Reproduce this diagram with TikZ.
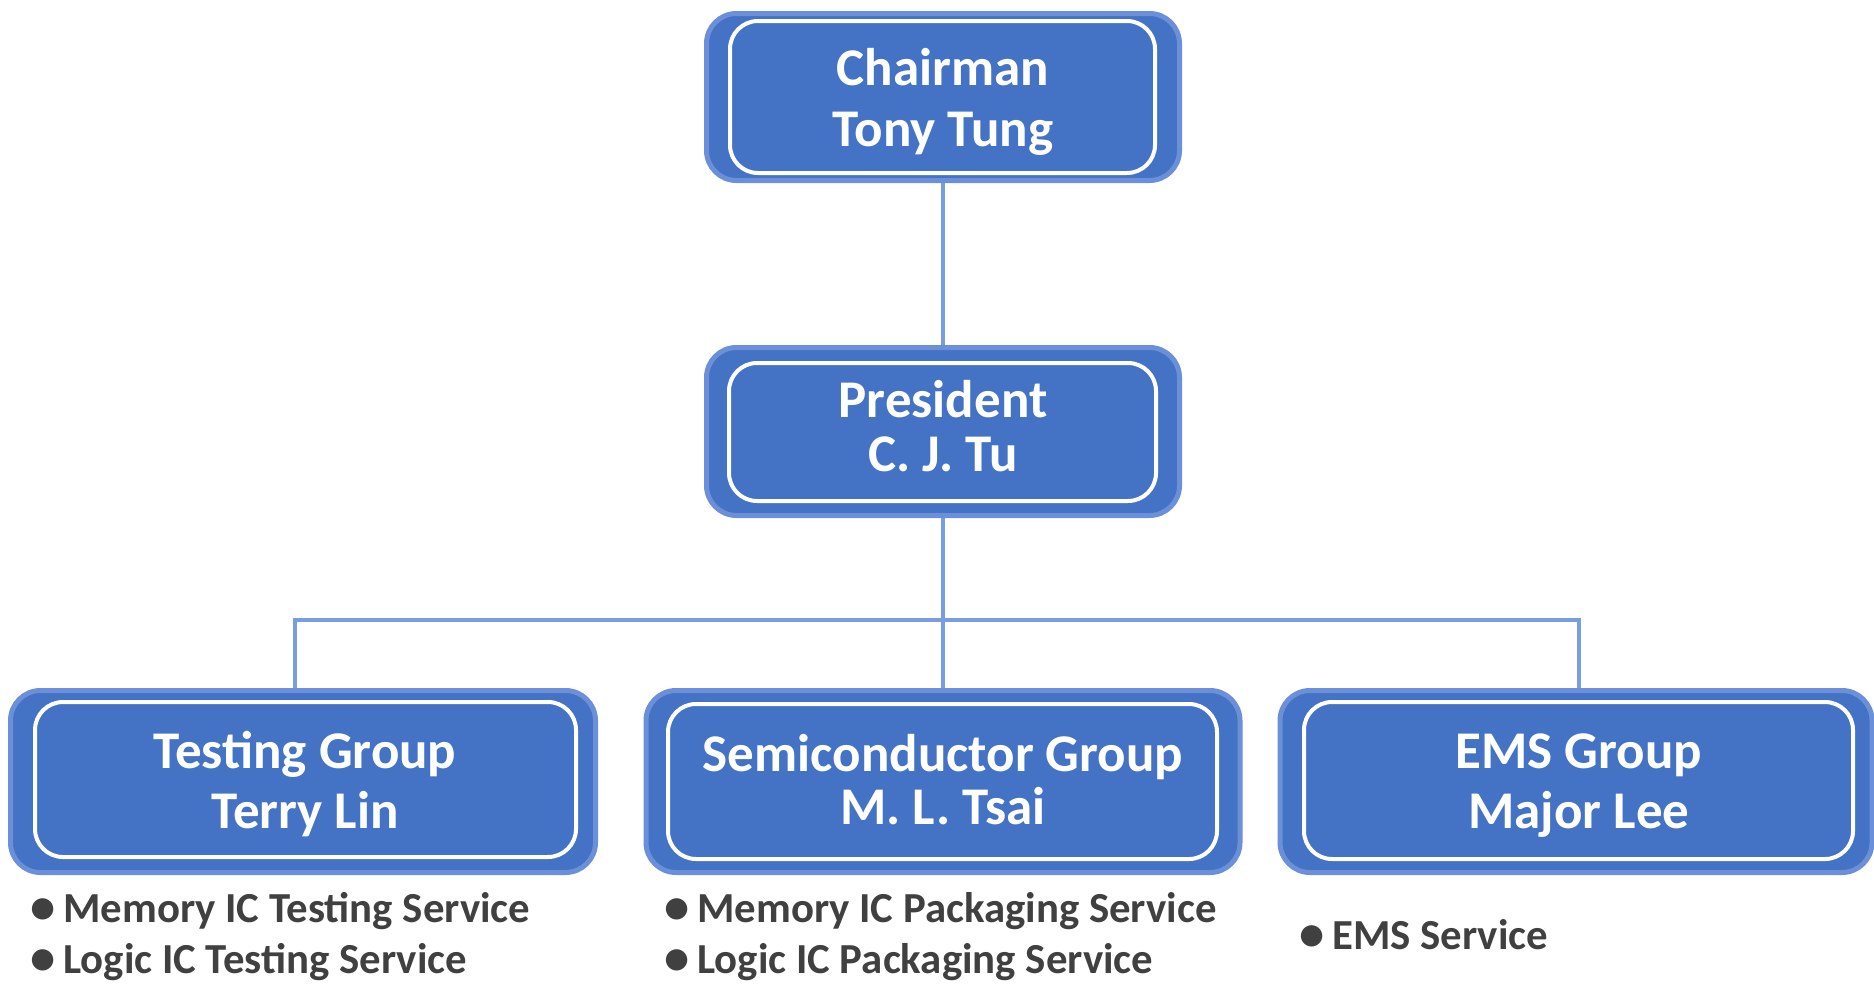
\documentclass[tikz,border=0pt]{standalone}
\usepackage{fontspec}
\setmainfont{Carlito}
\usetikzlibrary{calc,backgrounds}
\definecolor{boxfill}{RGB}{68,114,196}
\definecolor{boxedge}{RGB}{108,143,218}
\definecolor{linkc}{RGB}{122,156,224}
\definecolor{listc}{RGB}{64,64,64}
\newcommand{\bigdot}{\raisebox{-1.5pt}{\scalebox{1.18}{•}}\hspace{8pt}}
\begin{document}
\begin{tikzpicture}[x=1pt,y=-1pt,
  outerbox/.style={draw=boxedge, fill=boxfill, line width=5pt, rounded corners=30pt, inner sep=0pt},
  innerframe/.style={draw=white, line width=4pt, rounded corners=28pt},
  boxtext/.style={text=white, align=center, inner sep=0pt},
  conn/.style={draw=linkc, line width=4pt},
  item/.style={text=listc, font=\bfseries\fontsize{42.8}{50}\selectfont, anchor=base west, inner sep=0pt}]
\useasboundingbox (0,0) rectangle (1874,983);

% boxes
\node[outerbox, minimum width=473, minimum height=167] (chair) at (943,97) {};
\draw[innerframe] ($(chair.center)+(-213,-76)$) rectangle ($(chair.center)+(212,76)$);
\node[boxtext, font=\bfseries\fontsize{53}{61}\selectfont] (chairT) at (943,101.5) {Chairman\\Tony Tung};

\node[outerbox, minimum width=473, minimum height=168] (pres) at (943,431.5) {};
\draw[innerframe] ($(pres.center)+(-214,-68.5)$) rectangle ($(pres.center)+(213,69.5)$);
\node[boxtext, font=\bfseries\fontsize{53}{54}\selectfont] (presT) at (943,426.5) {President\\C. J. Tu};

\node[outerbox, minimum width=585, minimum height=182] (test) at (303,781.5) {};
\draw[innerframe] ($(test.center)+(-268,-79.5)$) rectangle ($(test.center)+(273,75.5)$);
\node[boxtext, font=\bfseries\fontsize{53}{60}\selectfont] (testT) at (305,784.5) {Testing Group\\Terry Lin};

\node[outerbox, minimum width=594, minimum height=182] (semi) at (943,781.5) {};
\draw[innerframe] ($(semi.center)+(-275,-77.5)$) rectangle ($(semi.center)+(274,77.5)$);
\node[boxtext, font=\bfseries\fontsize{53}{53}\selectfont] (semiT) at (943,780) {Semiconductor Group\\M. L. Tsai};

\node[outerbox, minimum width=592, minimum height=182] (ems) at (1576,781.5) {};
\draw[innerframe] ($(ems.center)+(-272,-79.5)$) rectangle ($(ems.center)+(277,77.5)$);
\node[boxtext, font=\bfseries\fontsize{53}{60}\selectfont] (emsT) at (1579,785.5) {EMS Group\\Major Lee};

% connectors
\coordinate (hubL) at (295,620);
\coordinate (hubM) at (943,620);
\coordinate (hubR) at (1579,620);
\begin{pgfonlayer}{background}
\draw[conn] (chair.south) -- (pres.north);
\draw[conn] (pres.south) -- (hubM);
\draw[conn] (hubL |- test.north) -- (hubL) -- (hubR) -- (hubR |- ems.north);
\draw[conn] (hubM) -- (semi.north);
\end{pgfonlayer}

% service lists
\node[item] (t1) at (30,922) {\bigdot Memory IC Testing Service};
\node[item] (t2) at (30,973) {\bigdot Logic IC Testing Service};
\node[item] (s1) at (664,922) {\bigdot Memory IC Packaging Service};
\node[item] (s2) at (664,973) {\bigdot Logic IC Packaging Service};
\node[item] (e1) at (1299,949) {\bigdot EMS Service};
\end{tikzpicture}
\end{document}
